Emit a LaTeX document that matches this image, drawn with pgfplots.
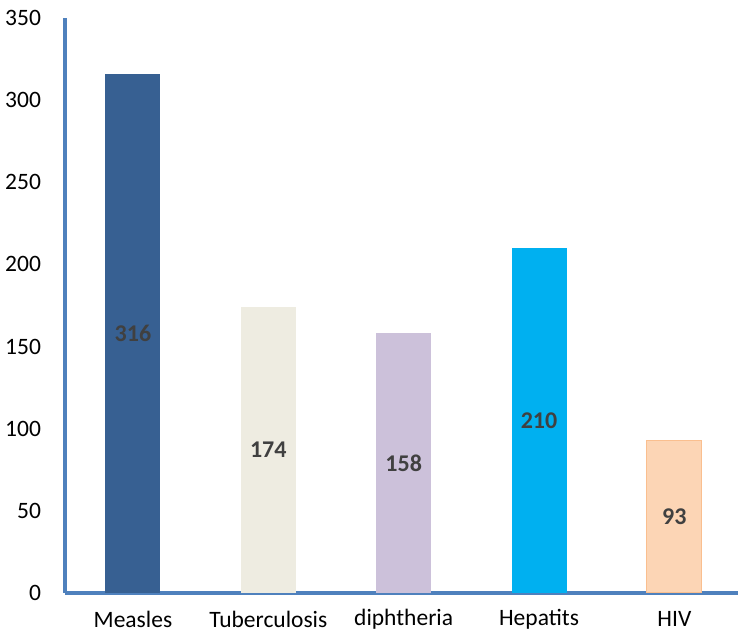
\documentclass[border=0pt]{standalone}
\usepackage{pgfplots}
\pgfplotsset{compat=1.18}
\usepackage{fontspec}
\setmainfont{Carlito}
\definecolor{axblue}{HTML}{4F81BD}
\definecolor{c1}{HTML}{376092}
\definecolor{c2}{HTML}{EEECE1}
\definecolor{c3}{HTML}{CCC1DA}
\definecolor{c4}{HTML}{00B0F0}
\definecolor{c5}{HTML}{FCD5B5}
\definecolor{c5b}{HTML}{FABF8F}
\definecolor{lbl}{HTML}{404040}
\begin{document}
\fontsize{23.5}{28}\selectfont
\begin{tikzpicture}
\begin{axis}[
  at={(0,0)}, anchor=south west,
  scale only axis,
  width=673pt, height=575pt,
  xmin=-0.502, xmax=4.47,
  ymin=0, ymax=350,
  ytick={0,50,...,350},
  xtick={0,1,2,3,4},
  xticklabels={Measles,Tuberculosis,diphtheria,Hepatits,HIV},
  axis x line*=bottom, axis y line*=left,
  axis line style={axblue, line width=3.2pt, -},
  major tick length=0pt,
  /pgf/number format/assume math mode=true,
  tick label style={font=\fontsize{23.5}{28}\selectfont, black},
  yticklabel style={anchor=east, xshift=-16pt},
  xticklabel style={anchor=center, yshift=-26pt},
  ybar, bar width=55pt, bar shift=0pt,
  clip=false,
]
\addplot[fill=c1, draw=none] coordinates {(0,316)};
\addplot[fill=c2, draw=none] coordinates {(1,174)};
\addplot[fill=c3, draw=none] coordinates {(2,158)};
\addplot[fill=c4, draw=none] coordinates {(3,210)};
\addplot[fill=c5, draw=c5b, line width=1pt] coordinates {(4,93)};
% value labels at half bar height
\addplot[draw=none, fill=none, nodes near coords, point meta=explicit symbolic,
  every node near coord/.style={anchor=center, font=\fontsize{24}{28}\selectfont\bfseries, text=lbl}]
  table[x=x, y expr=\thisrow{y}/2, meta=y] {
x y
0 316
1 174
2 158
3 210
4 93
};
\end{axis}
\pgfresetboundingbox
\path (-65pt,-43pt) rectangle (673pt,593pt);
\end{tikzpicture}
\end{document}
